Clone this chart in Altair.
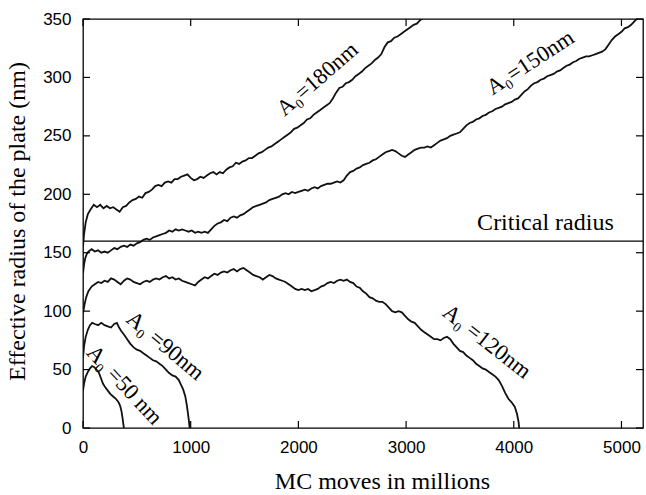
import altair as alt
import pandas as pd

# ---- data (MC moves in millions, radius in nm) ----
a180 = [(0,155),(10,166),(25,176),(45,183),(70,187),(100,191),(130,189),(160,191),(190,188),(220,190),
        (250,188),(280,189),(310,187),(340,185),(370,189),(400,190),(430,193),(460,195),(490,196),(520,198),
        (550,197),(580,201),(610,202),(640,204),(670,207),(700,208),(730,207),(760,210),(790,211),(820,210),
        (850,213),(880,213),(910,215),(940,216),(970,217),(1000,214),(1030,212),(1060,213),(1090,215),(1120,214),
        (1150,216),(1180,218),(1210,219),(1240,217),(1270,219),(1300,218),(1330,221),(1360,223),(1390,224),(1420,227),
        (1450,226),(1480,228),(1510,229),(1540,231),(1570,231),(1600,233),(1630,235),(1660,236),(1690,238),(1720,240),
        (1750,241),(1780,243),(1810,245),(1840,247),(1870,249),(1900,251),(1930,253),(1960,256),(1990,257),(2020,259),
        (2050,261),(2080,264),(2110,265),(2140,268),(2170,270),(2200,272),(2230,274),(2260,276),(2290,278),(2320,282),
        (2350,287),(2380,291),(2410,292),(2440,295),(2470,296),(2500,298),(2530,301),(2560,303),(2590,305),(2620,308),
        (2650,310),(2680,312),(2710,315),(2740,317),(2770,320),(2800,326),(2830,330),(2860,331),(2890,334),(2920,335),
        (2950,337),(2980,339),(3010,341),(3040,343),(3070,345),(3100,346),(3130,349),(3160,351)]

a150 = [(0,132),(10,140),(20,145),(35,149),(50,151),(80,153),(110,151),(140,152),(170,150),(200,151),
        (230,150),(260,152),(290,154),(320,153),(350,155),(380,156),(410,155),(440,157),(470,156),(500,158),
        (530,159),(560,161),(590,162),(620,161),(650,163),(680,164),(710,165),(740,166),(770,167),(800,169),
        (830,168),(860,170),(890,169),(920,170),(950,169),(980,168),(1010,169),(1040,167),(1070,168),(1100,167),
        (1130,168),(1160,167),(1190,170),(1220,173),(1250,175),(1280,176),(1310,178),(1340,177),(1370,180),(1400,181),
        (1430,180),(1460,182),(1490,183),(1520,185),(1550,187),(1580,189),(1610,190),(1640,191),(1670,192),(1700,193),
        (1730,195),(1760,196),(1790,197),(1820,198),(1850,200),(1880,201),(1910,200),(1940,202),(1970,201),(2000,202),
        (2030,203),(2060,204),(2090,203),(2120,205),(2150,206),(2180,205),(2210,207),(2240,208),(2270,209),(2300,209),
        (2330,210),(2360,211),(2390,210),(2420,212),(2450,216),(2480,219),(2510,220),(2540,222),(2570,223),(2600,225),
        (2630,226),(2660,227),(2690,229),(2720,230),(2750,232),(2780,234),(2810,236),(2840,237),(2870,238),(2900,237),
        (2930,235),(2960,233),(2990,232),(3020,234),(3050,236),(3080,238),(3110,239),(3140,240),(3170,240),(3200,241),
        (3230,240),(3260,242),(3290,244),(3320,246),(3350,247),(3380,248),(3410,250),(3440,251),(3470,252),(3500,253),
        (3530,256),(3560,259),(3590,261),(3620,262),(3650,264),(3680,265),(3710,267),(3740,268),(3770,270),(3800,271),
        (3830,273),(3860,274),(3890,275),(3920,277),(3950,278),(3980,279),(4010,281),(4040,282),(4070,285),(4100,288),
        (4130,290),(4160,293),(4190,295),(4220,296),(4250,298),(4280,299),(4310,301),(4340,302),(4370,303),(4400,305),
        (4430,306),(4460,308),(4490,310),(4520,311),(4550,313),(4580,314),(4610,316),(4640,317),(4670,318),(4700,318),
        (4730,319),(4760,320),(4790,321),(4820,322),(4850,324),(4880,328),(4910,332),(4940,335),(4970,337),(5000,339),
        (5030,342),(5060,343),(5090,345),(5120,348),(5150,351),(5180,354)]

a120 = [(0,98),(15,106),(30,112),(50,117),(80,121),(110,123),(140,125),(170,124),(200,126),(230,125),
        (260,128),(290,127),(320,125),(350,123),(380,126),(410,128),(440,127),(470,125),(500,124),(530,123),
        (560,125),(590,126),(620,125),(650,127),(680,128),(710,127),(740,129),(770,130),(800,128),(830,129),
        (860,127),(890,128),(920,126),(950,125),(980,124),(1010,123),(1040,122),(1070,125),(1100,127),(1130,129),
        (1160,128),(1190,130),(1220,132),(1250,131),(1280,133),(1310,134),(1340,133),(1370,135),(1400,136),(1430,134),
        (1460,136),(1490,137),(1520,135),(1550,133),(1580,131),(1610,130),(1640,129),(1670,127),(1700,129),(1730,131),
        (1760,130),(1790,128),(1820,127),(1850,126),(1880,125),(1910,123),(1940,121),(1970,119),(2000,118),(2030,119),
        (2060,118),(2090,119),(2120,117),(2150,118),(2180,119),(2210,121),(2240,122),(2270,124),(2300,125),(2330,124),
        (2360,126),(2390,127),(2420,126),(2450,127),(2480,125),(2510,124),(2540,121),(2570,120),(2600,117),(2630,115),
        (2660,112),(2690,111),(2720,109),(2750,108),(2780,108),(2810,106),(2840,103),(2870,100),(2900,99),(2930,100),
        (2960,99),(2990,96),(3020,93),(3050,91),(3080,90),(3110,87),(3140,84),(3170,82),(3200,80),(3230,78),
        (3260,76),(3290,76),(3320,75),(3350,77),(3380,78),(3410,76),(3440,72),(3470,69),(3500,66),(3530,65),
        (3560,62),(3590,60),(3620,58),(3650,55),(3680,53),(3710,51),(3740,50),(3770,48),(3800,46),(3830,44),
        (3860,41),(3890,36),(3920,30),(3950,25),(3980,22),(4010,18),(4030,12),(4045,5),(4050,0)]

a90 = [(0,60),(10,70),(25,78),(45,84),(65,88),(85,90),(110,89),(140,88),(170,90),(200,88),(230,87),
       (260,86),(290,89),(315,90),(335,86),(355,83),(380,80),(410,76),(440,72),(470,69),(500,67),(530,66),
       (560,64),(590,62),(620,60),(650,58),(680,57),(710,55),(740,53),(770,50),(800,47),(830,45),(860,44),
       (890,41),(910,37),(930,33),(950,27),(965,19),(975,12),(985,5),(990,0)]

a50 = [(0,32),(10,38),(25,44),(45,48),(65,51),(85,53),(105,52),(125,50),(145,48),(165,43),(185,38),
       (205,35),(230,32),(255,29),(280,27),(305,25),(330,22),(345,19),(358,14),(368,8),(375,3),(380,0)]

critical_radius = 160
x_ticks = [0, 1000, 2000, 3000, 4000, 5000]
y_ticks = [0, 50, 100, 150, 200, 250, 300, 350]

label_text = ["A\u2080=180nm", "A\u2080=150nm", "A\u2080 =120nm", "A\u2080 =90nm", "A\u2080 =50 nm", "Critical radius"]
label_x = [2177, 4153, 3751, 764, 385, 4294]
label_y = [298.6, 312.8, 73.9, 70.3, 36.8, 169.4]
label_angle = [319, 327, 38, 40, 47, 0]
label_size = [22.5, 22.5, 22.5, 22.5, 22.5, 24]

series = {"180": a180, "150": a150, "120": a120, "90": a90, "50": a50}
rows = []
for name, pts in series.items():
    for xv, yv in pts:
        rows.append({"series": name, "moves": xv, "radius": yv})
df = pd.DataFrame(rows)

W, H = 560, 409
xs = alt.Scale(domain=[0, 5200], nice=False, zero=False)
ys = alt.Scale(domain=[0, 350], nice=False, zero=False)

x_axis = alt.Axis(values=x_ticks, title="MC moves in millions", ticks=False, domain=False, grid=False,
                  format="d",
                  labelFont="Liberation Sans", labelFontSize=17, labelColor="black", labelPadding=11,
                  labelFlush=False, labelOverlap=False,
                  titleFont="Liberation Serif", titleFontSize=24, titleFontWeight="normal", titleColor="black",
                  titleX=299, titleY=60, titleAlign="center", titleBaseline="alphabetic")
y_axis = alt.Axis(values=y_ticks, title="Effective radius of the plate (nm)", ticks=False, domain=False, grid=False,
                  format="d",
                  labelFont="Liberation Sans", labelFontSize=17, labelColor="black", labelPadding=12,
                  labelFlush=False, labelOverlap=False,
                  titleFont="Liberation Serif", titleFontSize=24, titleFontWeight="normal", titleColor="black",
                  titleX=-59, titleY=202, titleAngle=270, titleAlign="center", titleBaseline="alphabetic")


def X(field):
    return alt.X(field, scale=xs, axis=x_axis)


def Y(field):
    return alt.Y(field, scale=ys, axis=y_axis)


lines = alt.Chart(df).mark_line(color="#111111", strokeWidth=1.8, clip=True).encode(
    x=X("moves:Q"),
    y=Y("radius:Q"),
    detail="series:N",
)

crit = alt.Chart(pd.DataFrame({"r": [critical_radius]})).mark_rule(color="black", strokeWidth=1.3).encode(
    y=Y("r:Q")
)

xt = pd.DataFrame({"t": x_ticks})
yt = pd.DataFrame({"t": y_ticks})
tick_style = dict(color="black", strokeWidth=1.2)
bottom_ticks = alt.Chart(xt).mark_rule(**tick_style).encode(
    x=X("t:Q"), y=alt.value(H), y2=alt.value(H - 7))
top_ticks = alt.Chart(xt).mark_rule(**tick_style).encode(
    x=X("t:Q"), y=alt.value(0), y2=alt.value(7))
left_ticks = alt.Chart(yt).mark_rule(**tick_style).encode(
    y=Y("t:Q"), x=alt.value(0), x2=alt.value(7))
right_ticks = alt.Chart(yt).mark_rule(**tick_style).encode(
    y=Y("t:Q"), x=alt.value(W), x2=alt.value(W - 7))

label_layers = []
for txt, lx, ly, ang, fs in zip(label_text, label_x, label_y, label_angle, label_size):
    ldf = pd.DataFrame({"x": [lx], "y": [ly], "t": [txt]})
    base = "alphabetic" if ang == 0 else "middle"
    label_layers.append(
        alt.Chart(ldf).mark_text(font="Liberation Serif", fontSize=fs, color="black",
                                 angle=ang, align="center", baseline=base).encode(
            x=X("x:Q"),
            y=Y("y:Q"),
            text="t:N",
        )
    )

chart = alt.layer(
    lines, crit, bottom_ticks, top_ticks, left_ticks, right_ticks, *label_layers
).properties(
    width=W, height=H,
    padding={"left": 83, "top": 19, "right": 3, "bottom": 67},
    autosize=alt.AutoSizeParams(type="none"),
    background="white",
).configure_view(stroke="black", strokeWidth=1.3)

chart.save("out.html", embed_options={"renderer": "svg", "actions": False})
